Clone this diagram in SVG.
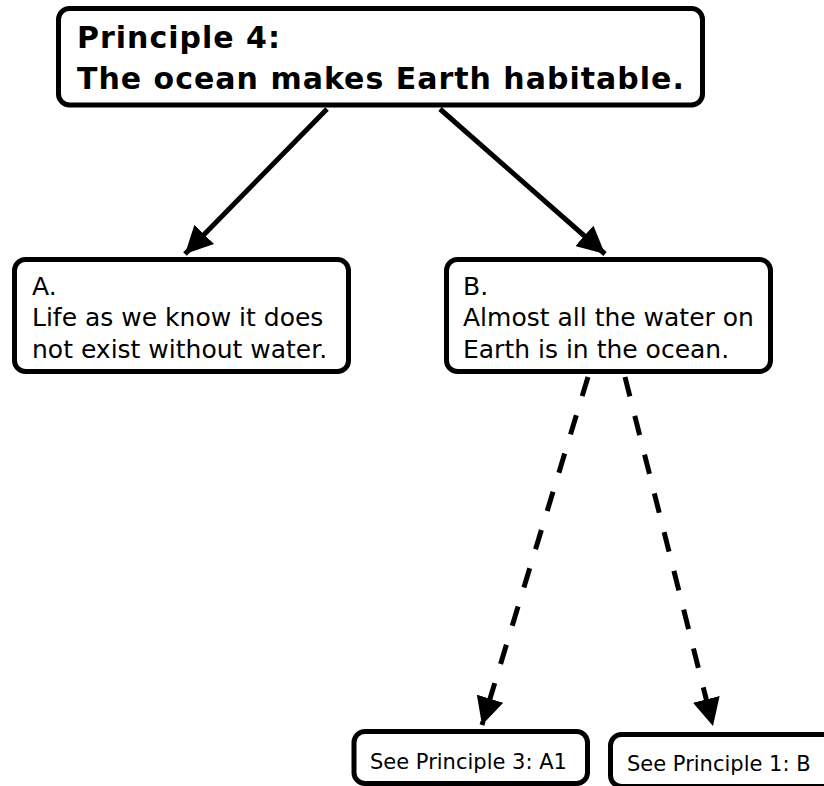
<svg xmlns="http://www.w3.org/2000/svg" width="824" height="786" viewBox="0 0 824 786">
<defs>
<style>
.box{fill:#fff;stroke:#000;stroke-width:5}
.t{font-family:"DejaVu Sans",Verdana,sans-serif;fill:#000}
.title{font-size:30px;font-weight:bold;letter-spacing:1px}
.body{font-size:25px}
.small{font-size:21px}
.edge{stroke:#000;stroke-width:5;fill:none}
.dash{stroke:#000;stroke-width:5;fill:none;stroke-dasharray:20 20}
</style>
<marker id="ah" viewBox="0 0 10 10" refX="10" refY="5" markerWidth="5.5" markerHeight="5.5" markerUnits="strokeWidth" orient="auto">
<path d="M0,0 L10,5 L0,10 Z" fill="#000"/>
</marker>
</defs>
<rect width="824" height="786" fill="#fff"/>
<g id="connectors">
<line class="edge" x1="327" y1="109" x2="185" y2="254" marker-end="url(#ah)"/>
<line class="edge" x1="440" y1="109" x2="605" y2="254" marker-end="url(#ah)"/>
<line class="dash" x1="588" y1="377" x2="482" y2="725" marker-end="url(#ah)"/>
<line class="dash" x1="625" y1="377" x2="713" y2="726" marker-end="url(#ah)"/>
</g>
<g id="principle4">
<rect class="box" x="58.5" y="8.5" width="644" height="96.5" rx="11"/>
<text class="t title" x="77" y="48">Principle 4:</text>
<text class="t title" x="77" y="89">The ocean makes Earth habitable.</text>
</g>
<g id="nodeA">
<rect class="box" x="14.5" y="259.5" width="334" height="112" rx="11"/>
<text class="t body" x="32" y="295">A.</text>
<text class="t body" x="32" y="326">Life as we know it does</text>
<text class="t body" x="32" y="358">not exist without water.</text>
</g>
<g id="nodeB">
<rect class="box" x="446.5" y="259.5" width="324" height="112" rx="11"/>
<text class="t body" x="463" y="295">B.</text>
<text class="t body" x="463" y="326">Almost all the water on</text>
<text class="t body" x="463" y="358">Earth is in the ocean.</text>
</g>
<g id="see3">
<rect class="box" x="354" y="731.5" width="233.5" height="52" rx="11"/>
<text class="t small" x="370" y="769">See Principle 3: A1</text>
</g>
<g id="see1">
<rect class="box" x="610.5" y="734.5" width="230" height="52" rx="11"/>
<text class="t small" x="627" y="771">See Principle 1: B</text>
</g>
</svg>
